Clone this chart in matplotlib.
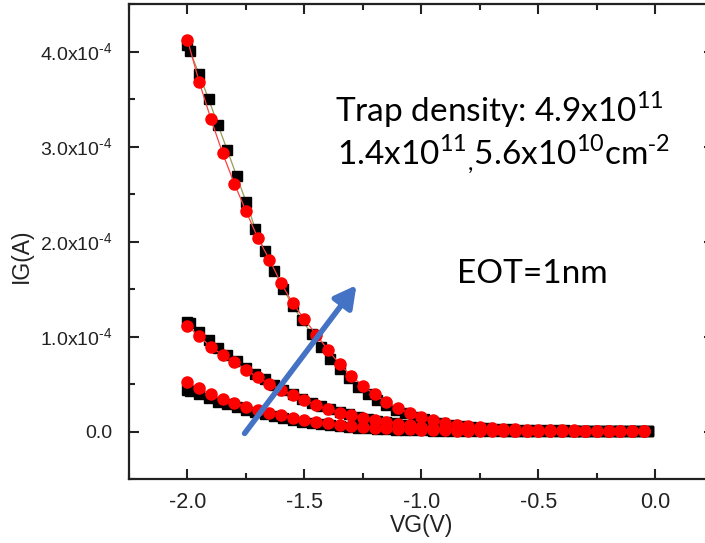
import numpy as np
import matplotlib
matplotlib.use("Agg")
import matplotlib.pyplot as plt
from matplotlib.ticker import MultipleLocator, FixedLocator, FixedFormatter

plt.rcParams['font.family'] = ['Liberation Sans', 'DejaVu Sans']
plt.rcParams['mathtext.fontset'] = 'custom'
plt.rcParams['mathtext.rm'] = 'Liberation Sans'
plt.rcParams['mathtext.sf'] = 'Lato'
plt.rcParams['axes.unicode_minus'] = False

# --- dados (IG em unidades de 1e-4 A) ---
vg_quad = [-2.00, -1.99, -1.95, -1.91, -1.87, -1.83, -1.79, -1.75, -1.71, -1.67,
           -1.63, -1.59, -1.55, -1.51, -1.47, -1.43, -1.39, -1.35, -1.31, -1.27,
           -1.23, -1.19, -1.15, -1.11, -1.07, -1.03, -0.99, -0.95, -0.91, -0.87,
           -0.83, -0.79, -0.75, -0.71, -0.67, -0.63, -0.59, -0.55, -0.51, -0.47,
           -0.43, -0.39, -0.35, -0.31, -0.27, -0.23, -0.19, -0.15, -0.11, -0.07,
           -0.03]
vg_circ = [-2.00, -1.95, -1.90, -1.85, -1.80, -1.75, -1.70, -1.65, -1.60, -1.55,
           -1.50, -1.45, -1.40, -1.35, -1.30, -1.25, -1.20, -1.15, -1.10, -1.05,
           -1.00, -0.95, -0.90, -0.85, -0.80, -0.75, -0.70, -0.65, -0.60, -0.55,
           -0.50, -0.45, -0.40, -0.35, -0.30, -0.25, -0.20, -0.15, -0.10, -0.05]

ig_quad_alto = [4.07, 4.01, 3.76, 3.50, 3.23, 2.96, 2.69, 2.42, 2.13, 1.90,
                1.69, 1.50, 1.32, 1.17, 1.03, 0.89, 0.76, 0.66, 0.56, 0.47,
                0.40, 0.33, 0.28, 0.23, 0.19, 0.155, 0.13, 0.105, 0.085, 0.07,
                0.057, 0.047, 0.04, 0.034, 0.029, 0.025, 0.021, 0.018, 0.016, 0.014,
                0.012, 0.011, 0.010, 0.009, 0.008, 0.007, 0.006, 0.006, 0.005, 0.005,
                0.004]
ig_quad_meio = [1.15, 1.14, 1.05, 0.96, 0.88, 0.81, 0.74, 0.67, 0.61, 0.55,
                0.49, 0.44, 0.39, 0.345, 0.305, 0.27, 0.235, 0.205, 0.18, 0.155,
                0.135, 0.115, 0.10, 0.085, 0.072, 0.06, 0.05, 0.042, 0.035, 0.029,
                0.024, 0.02, 0.017, 0.014, 0.012, 0.010, 0.009, 0.008, 0.007, 0.006,
                0.006, 0.005, 0.005, 0.004, 0.004, 0.004, 0.003, 0.003, 0.003, 0.003,
                0.003]
ig_quad_baixo = [0.44, 0.43, 0.39, 0.35, 0.315, 0.285, 0.255, 0.23, 0.205, 0.18,
                 0.16, 0.14, 0.12, 0.105, 0.09, 0.077, 0.065, 0.055, 0.046, 0.039,
                 0.033, 0.027, 0.023, 0.019, 0.016, 0.013, 0.011, 0.009, 0.008, 0.007,
                 0.006, 0.005, 0.005, 0.004, 0.004, 0.003, 0.003, 0.003, 0.003, 0.002,
                 0.002, 0.002, 0.002, 0.002, 0.002, 0.002, 0.002, 0.001, 0.001, 0.001,
                 0.001]

ig_circ_alto = [4.12, 3.68, 3.29, 2.93, 2.61, 2.32, 2.04, 1.81, 1.56, 1.35,
                1.18, 1.02, 0.86, 0.71, 0.585, 0.48, 0.39, 0.31, 0.25, 0.19,
                0.15, 0.12, 0.09, 0.07, 0.055, 0.045, 0.035, 0.03, 0.025, 0.02,
                0.018, 0.015, 0.013, 0.011, 0.01, 0.009, 0.008, 0.007, 0.006, 0.005]
ig_circ_meio = [1.11, 1.005, 0.89, 0.805, 0.73, 0.65, 0.57, 0.50, 0.44, 0.38,
                0.33, 0.28, 0.235, 0.20, 0.17, 0.145, 0.12, 0.10, 0.08, 0.065,
                0.05, 0.04, 0.033, 0.027, 0.022, 0.018, 0.015, 0.012, 0.010, 0.009,
                0.008, 0.007, 0.006, 0.005, 0.005, 0.004, 0.004, 0.003, 0.003, 0.003]
ig_circ_baixo = [0.52, 0.455, 0.39, 0.34, 0.30, 0.26, 0.23, 0.195, 0.17, 0.145,
                 0.12, 0.10, 0.085, 0.07, 0.058, 0.048, 0.04, 0.033, 0.027, 0.022,
                 0.018, 0.015, 0.012, 0.010, 0.009, 0.008, 0.007, 0.006, 0.005, 0.005,
                 0.004, 0.004, 0.003, 0.003, 0.003, 0.003, 0.002, 0.002, 0.002, 0.002]

yticks = [0.0, 1.0e-4, 2.0e-4, 3.0e-4, 4.0e-4]
ytick_labels = ['0.0', '1.0x10$^{\\text{-4}}$', '2.0x10$^{\\text{-4}}$',
                '3.0x10$^{\\text{-4}}$', '4.0x10$^{\\text{-4}}$']
escala = 1e-4

# --- figura ---
fig = plt.figure(figsize=(7.05, 5.43), dpi=100)
ax = fig.add_axes([129 / 705, 1 - 479 / 543, 585 / 705, 475 / 543])

vq = np.array(vg_quad)
vc = np.array(vg_circ)
for serie in [ig_quad_alto, ig_quad_meio, ig_quad_baixo]:
    ax.plot(vq, np.array(serie) * escala, color='#9a9a55', lw=0.9,
            marker='s', ms=7.2, mfc='black', mec='black', zorder=2)
for serie in [ig_circ_alto, ig_circ_meio, ig_circ_baixo]:
    ax.plot(vc, np.array(serie) * escala, color='#ff4040', lw=0.9,
            marker='o', ms=8.0, mfc='red', mec='red', zorder=3)

ax.set_xlim(-2.25, 0.25)
ax.set_ylim(-0.5e-4, 4.5e-4)
ax.xaxis.set_major_locator(MultipleLocator(0.5))
ax.xaxis.set_minor_locator(MultipleLocator(0.25))
ax.xaxis.set_major_formatter(matplotlib.ticker.FormatStrFormatter('%.1f'))
ax.yaxis.set_major_locator(FixedLocator(yticks))
ax.yaxis.set_major_formatter(FixedFormatter(ytick_labels))
ax.yaxis.set_minor_locator(MultipleLocator(0.5e-4))

ax.tick_params(which='both', direction='in', top=True, right=True, width=1.5,
               colors='#222222')
ax.tick_params(which='major', length=7.5)
ax.tick_params(which='minor', length=4)
ax.tick_params(axis='y', pad=12, labelsize=14)
ax.tick_params(axis='x', pad=9, labelsize=15.5)
for sp in ax.spines.values():
    sp.set_linewidth(1.6)
    sp.set_color('#222222')

ax.set_xlabel('VG(V)', fontsize=16.5, color='#222222', labelpad=1)
ax.set_ylabel('IG(A)', fontsize=16.5, color='#222222')
ax.yaxis.set_label_coords(-0.164, 0.47)

# seta azul
ax.annotate('', xy=(-1.278, 1.54e-4), xytext=(-1.756, -0.02e-4),
            arrowprops=dict(arrowstyle='-|>,head_length=1.3,head_width=0.7',
                            color='#4472c4', lw=4, shrinkA=0, shrinkB=0))

# textos
fig.text(335 / 705, 1 - 122 / 543, 'Trap density: 4.9x10$^{\\mathsf{11}}$',
         fontsize=24, family='Lato', va='baseline', ha='left')
fig.text(337 / 705, 1 - 165 / 543,
         '1.4x10$^{\\mathsf{11}}$$_{\\mathsf{,}}$5.6x10$^{\\mathsf{10}}$cm$^{\\text{-}\\mathsf{2}}$',
         fontsize=24, family='Lato', va='baseline', ha='left')
fig.text(457 / 705, 1 - 283 / 543, 'EOT=1nm',
         fontsize=24, family='Lato', va='baseline', ha='left')

fig.savefig('out.png', dpi=100)
